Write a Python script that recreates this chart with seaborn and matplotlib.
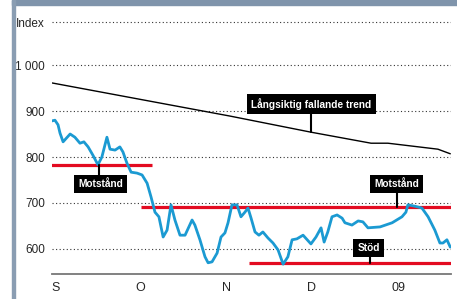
import numpy as np
import pandas as pd
import seaborn as sns
import matplotlib.pyplot as plt
from matplotlib.patches import Rectangle

# day offsets from 1 Sep 2008, index values
price_days = [-1.6, -0.2, 0.9, 1.6, 2.7, 5.2, 6.9, 8.7, 10.1, 11.6, 13.3, 15.1, 16.5, 18.3,
              19.4, 21.2, 22.9, 24.0, 25.4, 26.9, 29.0, 30.8, 32.6, 34.0, 35.4, 36.8, 38.3,
              39.7, 41.1, 42.5, 44.3, 46.1, 48.6, 49.6, 51.4, 53.2, 54.3, 55.7, 57.5, 58.9,
              60.3, 61.4, 62.8, 64.6, 66.0, 67.4, 68.5, 69.6, 71.0, 72.4, 73.8, 75.6, 77.4,
              79.2, 81.0, 82.7, 84.2, 85.9, 88.1, 90.9, 92.7, 94.5, 95.6, 96.9, 98.4, 100.2,
              102.0, 103.0, 105.5, 107.7, 109.4, 111.2, 115.5, 119.8, 123.3, 124.7, 125.4,
              127.9, 130.4, 132.6, 135.0, 136.8, 137.9, 139.3, 140.5]
price_vals = [878, 880, 870, 852, 833, 850, 843, 830, 833, 822, 804, 783, 800, 843,
              817, 815, 822, 811, 787, 767, 765, 761, 743, 713, 680, 670, 626,
              641, 696, 663, 630, 630, 663, 652, 620, 583, 570, 572, 591, 626,
              635, 657, 696, 696, 670, 680, 689, 667, 637, 630, 637, 624, 613,
              598, 567, 583, 620, 622, 630, 611, 626, 646, 615, 637, 670, 674,
              667, 657, 652, 661, 659, 646, 648, 657, 670, 680, 696,
              693, 689, 670, 641, 613, 613, 620, 604]

trend_days = [-1.2, 62.1, 90.9, 112.3, 118.3, 136.1, 140.5]
trend_vals = [961, 889, 854, 830, 830, 817, 807]

# resistance / support levels: (start day, end day, level)
levels = [(-2.7, 34.3, 783), (30.4, 140.7, 691), (68.9, 140.7, 570)]

# labels: text, box centre (day, value), connector (day, from value, to value)
labels = [("Motstånd", 16.0, 741, 15.5, 783, 748),
          ("Långsiktig fallande trend", 91.1, 915, 91.0, 854, 905),
          ("Motstånd", 121.5, 742, 121.5, 691, 735),
          ("Stöd", 111.4, 602, 112.0, 570, 595)]

month_days = [0, 30, 61, 91, 122]
month_labels = ["S", "O", "N", "D", "09"]
y_ticks = [600, 700, 800, 900, 1000, 1093]
y_labels = ["600", "700", "800", "900", "1 000", "Index"]

sns.set_style("white")
plt.rcParams['font.family'] = ['Liberation Sans', 'DejaVu Sans']

fig = plt.figure(figsize=(4.57, 2.99), dpi=100)
ax = fig.add_axes([52 / 457, 25 / 299, 399 / 457, 266 / 299])

# frame decorations: header band and left bar
fig.patches.append(Rectangle((12 / 457, 294 / 299), 445 / 457, 5 / 299,
                             transform=fig.transFigure, color='#7f94ab', zorder=0))
fig.patches.append(Rectangle((12 / 457, 0), 2.5 / 457, 1,
                             transform=fig.transFigure, color='#8a9db2', zorder=0))

for y in y_ticks:
    ax.axhline(y, color='#333333', lw=0.8, ls=(0, (1, 2.2)), zorder=1)

for x0, x1, lv in levels:
    ax.plot([x0, x1], [lv, lv], color='#e30b21', lw=2.3, solid_capstyle='butt', zorder=2)

sns.lineplot(x=trend_days, y=trend_vals, color='black', lw=1.0, ax=ax, zorder=3)
sns.lineplot(x=price_days, y=price_vals, color='#1b9ad2', lw=2.0, ax=ax, zorder=4,
             sort=False)

for text, bx, by, cx, c0, c1 in labels:
    ax.plot([cx, cx], [c0, c1], color='black', lw=1.5, zorder=5)
    ax.text(bx, by, text, ha='center', va='center', color='white', fontsize=7.3,
            fontweight='bold', zorder=6,
            bbox=dict(boxstyle='square,pad=0.4', fc='black', ec='none'))

ax.set_xlim(-1.25, 140.75)
ax.set_ylim(545.6, 1124)
ax.set_xticks(month_days)
ax.set_xticklabels(month_labels, fontsize=9)
ax.set_yticks(y_ticks)
ax.set_yticklabels(y_labels, fontsize=8.5)
ax.tick_params(axis='y', length=0, pad=5)
ax.tick_params(axis='x', length=4, width=1, color='#777777', pad=2)
for s in ['left', 'top', 'right']:
    ax.spines[s].set_visible(False)
ax.spines['bottom'].set_color('#777777')
ax.spines['bottom'].set_linewidth(1.3)
ax.set_xlabel('')
ax.set_ylabel('')

fig.savefig('out.png', dpi=100)
